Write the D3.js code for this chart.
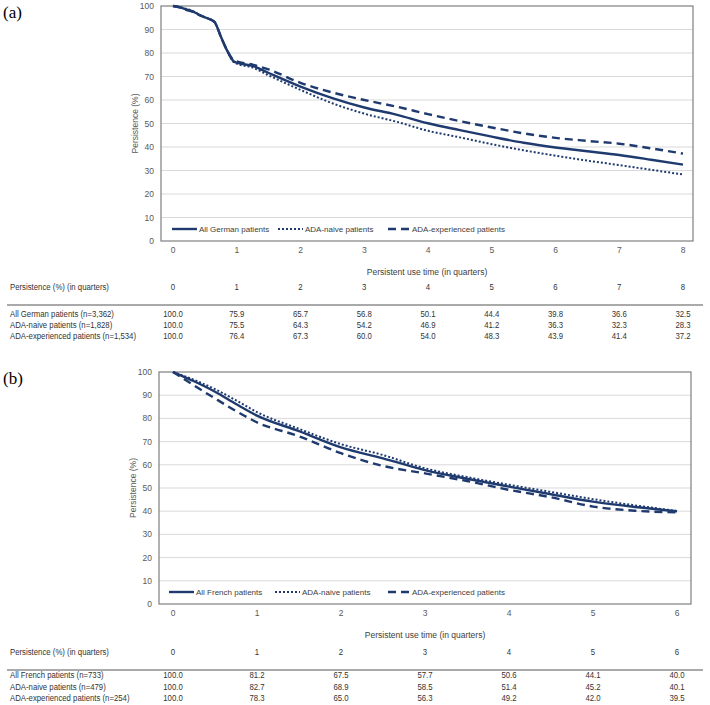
<!DOCTYPE html>
<html>
<head>
<meta charset="utf-8">
<script src="https://cdn.jsdelivr.net/npm/d3@7"></script>
<style>
  body { margin: 0; background: #fff; }
  svg text { font-family: "Liberation Sans", Arial, sans-serif; }
</style>
</head>
<body>
<svg id="chart" width="710" height="705"></svg>
<script>
// ---- data: panel (a), Germany ----
const germanQuarters = [0, 1, 2, 3, 4, 5, 6, 7, 8];
const germanRowLabels = ["All German  patients (n=3,362)", "ADA-naive  patients (n=1,828)", "ADA-experienced  patients (n=1,534)"];
const germanTable = [
  ["100.0", "75.9", "65.7", "56.8", "50.1", "44.4", "39.8", "36.6", "32.5"],
  ["100.0", "75.5", "64.3", "54.2", "46.9", "41.2", "36.3", "32.3", "28.3"],
  ["100.0", "76.4", "67.3", "60.0", "54.0", "48.3", "43.9", "41.4", "37.2"]
];
const germanAllX = [0, 0.1, 0.2, 0.3, 0.4, 0.5, 0.65, 0.75, 0.85, 0.95, 1, 1.25, 1.5, 2, 2.5, 3, 3.5, 4, 4.5, 5, 5.5, 6, 6.5, 7, 7.5, 8];
const germanAllY = [100, 99.5, 98.6, 97.8, 96.4, 95.2, 93.2, 87, 81, 76.5, 75.9, 74.5, 71.5, 65.7, 60.8, 56.8, 53.8, 50.1, 47.2, 44.4, 41.8, 39.8, 38.2, 36.6, 34.6, 32.5];
const germanNaiveX = [0, 0.1, 0.2, 0.3, 0.4, 0.5, 0.65, 0.75, 0.85, 0.95, 1, 1.25, 1.5, 2, 2.5, 3, 3.5, 4, 4.5, 5, 5.5, 6, 6.5, 7, 7.5, 8];
const germanNaiveY = [100, 99.6, 98.8, 98.0, 96.5, 95.2, 93.2, 87, 81, 76.2, 75.5, 73.8, 70.5, 64.3, 58.6, 54.2, 50.8, 46.9, 44.1, 41.2, 38.6, 36.3, 34.2, 32.3, 30.3, 28.3];
const germanExpX = [0, 0.1, 0.2, 0.3, 0.4, 0.5, 0.65, 0.75, 0.85, 0.95, 1, 1.25, 1.5, 2, 2.5, 3, 3.5, 4, 4.5, 5, 5.5, 6, 6.5, 7, 7.5, 8];
const germanExpY = [100, 99.4, 98.4, 97.6, 96.3, 95.1, 93.2, 87, 81, 76.9, 76.4, 75.0, 73.0, 67.3, 63.2, 60.0, 57.2, 54.0, 51.0, 48.3, 45.8, 43.9, 42.6, 41.4, 39.4, 37.2];

// ---- data: panel (b), France ----
const frenchQuarters = [0, 1, 2, 3, 4, 5, 6];
const frenchRowLabels = ["All French patients (n=733)", "ADA-naive  patients (n=479)", "ADA-experienced  patients (n=254)"];
const frenchTable = [
  ["100.0", "81.2", "67.5", "57.7", "50.6", "44.1", "40.0"],
  ["100.0", "82.7", "68.9", "58.5", "51.4", "45.2", "40.1"],
  ["100.0", "78.3", "65.0", "56.3", "49.2", "42.0", "39.5"]
];
const frenchAllX = [0, 0.25, 0.5, 0.75, 1, 1.5, 2, 2.5, 3, 3.5, 4, 4.5, 5, 5.5, 6];
const frenchAllY = [100, 96, 91.5, 86.2, 81.2, 74.5, 67.5, 62.8, 57.7, 54.0, 50.6, 47.3, 44.1, 41.8, 40.0];
const frenchNaiveX = [0, 0.25, 0.5, 0.75, 1, 1.5, 2, 2.5, 3, 3.5, 4, 4.5, 5, 5.5, 6];
const frenchNaiveY = [100, 96.6, 92.6, 87.8, 82.7, 75.5, 68.9, 64.2, 58.5, 54.7, 51.4, 48.3, 45.2, 42.5, 40.1];
const frenchExpX = [0, 0.25, 0.5, 0.75, 1, 1.5, 2, 2.5, 3, 3.5, 4, 4.5, 5, 5.5, 6];
const frenchExpY = [100, 94.2, 88.6, 83.2, 78.3, 72.3, 65.0, 59.5, 56.3, 53.0, 49.2, 46.0, 42.0, 40.2, 39.5];

const yTicks = [0, 10, 20, 30, 40, 50, 60, 70, 80, 90, 100];

const NAVY = "#1f3a6e";
const NARROW = 0.82; // table text is set in a condensed face
const svg = d3.select("#chart");

function zip(xs, ys) { return xs.map((x, i) => [x, ys[i]]); }

// squeezed text for the table
function tableText(parent, tx, ty, str, anchor)
{
  return parent.append("text")
    .attr("transform", `translate(${tx}, ${ty}) scale(${NARROW}, 1)`)
    .attr("text-anchor", anchor || "start")
    .attr("font-size", 9.5).attr("fill", "#333")
    .text(str);
}

function drawPanel(p)
{
  const g = svg.append("g");

  const x = d3.scaleLinear().domain([0, d3.max(p.quarters)]).range([173, p.xEnd]);
  const y = d3.scaleLinear().domain([0, 100]).range([p.bottom, p.top]);

  // panel letter
  g.append("text")
   .attr("x", 3).attr("y", p.top + 12)
   .style("font-family", "'Liberation Serif', 'Times New Roman', serif")
   .attr("font-size", 17)
   .text(p.letter);

  // gridlines
  g.selectAll(".grid")
   .data(yTicks.slice(1, -1))
   .enter().append("line")
   .attr("x1", p.left).attr("x2", p.right)
   .attr("y1", d => y(d)).attr("y2", d => y(d))
   .attr("stroke", "#d9d9d9").attr("stroke-width", 1);

  // frame
  g.append("rect")
   .attr("x", p.left).attr("y", p.top)
   .attr("width", p.right - p.left).attr("height", p.bottom - p.top)
   .attr("fill", "none").attr("stroke", "#7f7f7f").attr("stroke-width", 1.2);

  // y tick labels
  g.selectAll(".ylab")
   .data(yTicks)
   .enter().append("text")
   .attr("x", p.left - 7).attr("y", d => y(d) + 3)
   .attr("text-anchor", "end")
   .attr("font-size", 8.5).attr("fill", "#595959")
   .text(d => d);

  // x tick labels
  g.selectAll(".xlab")
   .data(p.quarters)
   .enter().append("text")
   .attr("x", d => x(d)).attr("y", p.bottom + 12)
   .attr("text-anchor", "middle")
   .attr("font-size", 8.5).attr("fill", "#595959")
   .text(d => d);

  g.append("text")
   .attr("x", (p.left + p.right) / 2).attr("y", p.bottom + 34)
   .attr("text-anchor", "middle")
   .attr("font-size", 8.5).attr("fill", "#404040")
   .text("Persistent use time (in quarters)");

  g.append("text")
   .attr("transform", `translate(${p.left - 23}, ${(p.top + p.bottom) / 2}) rotate(-90)`)
   .attr("text-anchor", "middle")
   .attr("font-size", 8.5).attr("fill", "#595959")
   .text("Persistence (%)");

  const line = d3.line().x(d => x(d[0])).y(d => y(d[1])).curve(d3.curveMonotoneX);

  p.series.forEach(s => {
    g.append("path")
     .datum(zip(s.xs, s.ys))
     .attr("d", line)
     .attr("fill", "none")
     .attr("stroke", NAVY)
     .attr("stroke-width", s.width)
     .attr("stroke-dasharray", s.dash);
  });

  // legend
  const ly = p.bottom - 12;
  p.series.forEach((s, i) => {
    const lx = p.legendX[i];
    g.append("line")
     .attr("x1", lx).attr("x2", lx + 25)
     .attr("y1", ly).attr("y2", ly)
     .attr("stroke", NAVY).attr("stroke-width", s.width)
     .attr("stroke-dasharray", s.dash);
    g.append("text")
     .attr("x", lx + (i === 2 ? 24 : 27)).attr("y", ly + 3)
     .attr("font-size", 8).attr("fill", "#404040")
     .text(s.name);
  });

  // table
  const th = p.tableTop;
  tableText(g, 10, th, "Persistence (%) (in quarters)");
  p.quarters.forEach(q => tableText(g, x(q), th, q, "middle"));

  g.append("line")
   .attr("x1", 7).attr("x2", 703)
   .attr("y1", th + 15).attr("y2", th + 15)
   .attr("stroke", "#555").attr("stroke-width", 1);

  p.rowLabels.forEach((lab, r) => {
    const ry = th + p.rowGap + r * p.rowStep;
    tableText(g, 10, ry, lab);
    p.table[r].forEach((v, i) => tableText(g, x(p.quarters[i]), ry, v, "middle"));
  });
}

drawPanel({
  letter: "(a)",
  quarters: germanQuarters,
  left: 161, right: 693, top: 6, bottom: 241, xEnd: 683,
  legendX: [172, 278, 388],
  tableTop: 290,
  rowGap: 27, rowStep: 11,
  rowLabels: germanRowLabels,
  table: germanTable,
  series: [
    { name: "All German patients", xs: germanAllX, ys: germanAllY, width: 2.4, dash: null },
    { name: "ADA-naive  patients", xs: germanNaiveX, ys: germanNaiveY, width: 2, dash: "2,2" },
    { name: "ADA-experienced patients", xs: germanExpX, ys: germanExpY, width: 2.4, dash: "8,5" }
  ]
});

drawPanel({
  letter: "(b)",
  quarters: frenchQuarters,
  left: 159, right: 691, top: 372, bottom: 604, xEnd: 677,
  legendX: [169, 275, 388],
  tableTop: 655,
  rowGap: 23, rowStep: 11.5,
  rowLabels: frenchRowLabels,
  table: frenchTable,
  series: [
    { name: "All French patients", xs: frenchAllX, ys: frenchAllY, width: 2.4, dash: null },
    { name: "ADA-naive  patients", xs: frenchNaiveX, ys: frenchNaiveY, width: 2, dash: "2,2" },
    { name: "ADA-experienced patients", xs: frenchExpX, ys: frenchExpY, width: 2.4, dash: "8,5" }
  ]
});
</script>
</body>
</html>
